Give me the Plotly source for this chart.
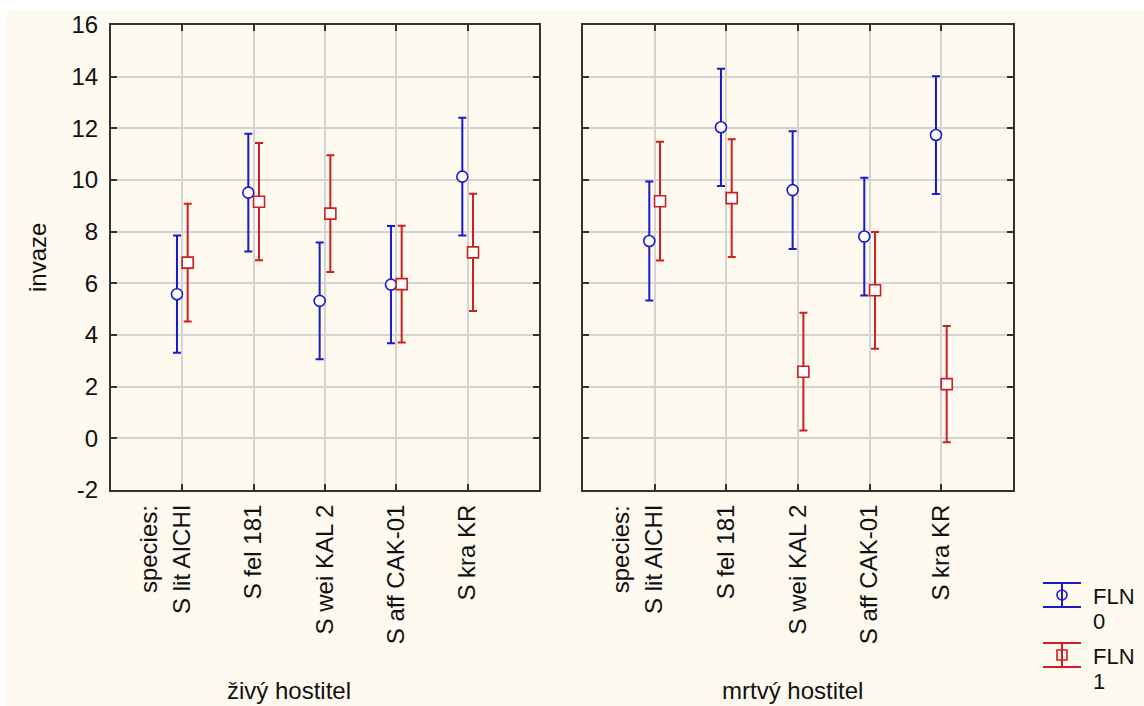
import plotly.graph_objects as go

# --- data -------------------------------------------------------------
species = ["S lit AICHI", "S fel 181", "S wei KAL 2", "S aff CAK-01", "S kra KR"]
group_header = "species:"
panels = ["živý hostitel", "mrtvý hostitel"]

# mean invasion per species, FLN = 0 / FLN = 1
live_fln0 = [5.58, 9.51, 5.32, 5.95, 10.13]
live_fln1 = [6.80, 9.16, 8.70, 5.97, 7.20]
dead_fln0 = [7.64, 12.04, 9.61, 7.81, 11.74]
dead_fln1 = [9.18, 9.30, 2.58, 5.73, 2.10]

# half-width of the interval bars
live_fln0_err = [2.27, 2.28, 2.26, 2.27, 2.28]
live_fln1_err = [2.28, 2.27, 2.26, 2.26, 2.27]
dead_fln0_err = [2.30, 2.27, 2.28, 2.28, 2.28]
dead_fln1_err = [2.30, 2.28, 2.28, 2.26, 2.25]

y_ticks = [-2, 0, 2, 4, 6, 8, 10, 12, 14, 16]
y_tick_text = ["-2", "0", "2", "4", "6", "8", "10", "12", "14", "16"]

# --- styling ----------------------------------------------------------
W, H = 1144, 706
FONT = "Liberation Sans, Arial, sans-serif"
BLUE = "#1a1acc"
RED = "#cc1f1f"
CREAM = "#fefaf0"
GRID = "#d4d4d4"
FRAME = "#333333"
INK = "#111111"
FS = 24
OFFSET = 0.075  # horizontal dodge of the two FLN groups


def px_x(x):
    return x / W


def px_y(y):
    return (H - y) / H


fig = go.Figure()

series = [
    ("x", "y", live_fln0, live_fln0_err, live_fln1, live_fln1_err),
    ("x2", "y2", dead_fln0, dead_fln0_err, dead_fln1, dead_fln1_err),
]
xs = list(range(1, len(species) + 1))
for xa, ya, m0, e0, m1, e1 in series:
    fig.add_trace(go.Scatter(
        x=[v - OFFSET for v in xs], y=m0, xaxis=xa, yaxis=ya, mode="markers",
        marker=dict(symbol="circle", size=11, color="white", line=dict(color=BLUE, width=1.6)),
        error_y=dict(type="data", array=e0, visible=True, color=BLUE, thickness=2, width=4),
        showlegend=False, hoverinfo="y",
    ))
    fig.add_trace(go.Scatter(
        x=[v + OFFSET for v in xs], y=m1, xaxis=xa, yaxis=ya, mode="markers",
        marker=dict(symbol="square", size=11, color="white", line=dict(color=RED, width=1.6)),
        error_y=dict(type="data", array=e1, visible=True, color=RED, thickness=2, width=4),
        showlegend=False, hoverinfo="y",
    ))

common_x = dict(
    range=[0, 6], tickmode="array", tickvals=xs, ticktext=species,
    tickangle=-90, tickfont=dict(size=FS, color=INK, family=FONT),
    showgrid=True, gridcolor=GRID, gridwidth=2,
    showline=True, linecolor=FRAME, linewidth=2, mirror="ticks",
    ticks="inside", ticklen=6, tickwidth=2, tickcolor=FRAME,
    zeroline=False, fixedrange=True, ticklabelstandoff=3, automargin=False,
)
common_y = dict(
    range=[-2, 16], tickmode="array", tickvals=y_ticks, ticktext=y_tick_text,
    tickfont=dict(size=FS, color=INK, family=FONT),
    showgrid=True, gridcolor=GRID, gridwidth=2,
    showline=True, linecolor=FRAME, linewidth=2, mirror="ticks",
    ticks="inside", ticklen=6, tickwidth=2, tickcolor=FRAME,
    zeroline=False, fixedrange=True, automargin=False,
)

y_dom = [px_y(490), px_y(25)]
fig.update_layout(
    template="none",
    width=W, height=H, autosize=False,
    margin=dict(l=0, r=0, t=0, b=0, pad=0),
    paper_bgcolor="white", plot_bgcolor="white",
    font=dict(family=FONT, size=FS, color=INK),
    showlegend=False,
    xaxis=dict(domain=[px_x(111), px_x(539)], anchor="y", **common_x),
    yaxis=dict(domain=y_dom, anchor="x", showticklabels=True, ticklabelstandoff=6, **common_y),
    xaxis2=dict(domain=[px_x(583), px_x(1013)], anchor="y2", **common_x),
    yaxis2=dict(domain=y_dom, anchor="x2", showticklabels=False, **common_y),
)

# cream page with a thin white rim at the top and left
fig.add_shape(type="rect", xref="paper", yref="paper", layer="below",
              x0=px_x(7), x1=1, y0=0, y1=px_y(10),
              fillcolor=CREAM, line=dict(width=0))

# header line in front of the first category of each panel
for xa in ("x", "x2"):
    fig.add_annotation(text=group_header, xref=xa, yref="paper", x=xs[0] - 0.48, y=px_y(503),
                       textangle=-90, xanchor="center", yanchor="top", showarrow=False,
                       font=dict(size=FS, family=FONT, color=INK))

# axis title and panel captions
fig.add_annotation(text="invaze", xref="paper", yref="paper", x=px_x(37), y=px_y(258),
                   textangle=-90, xanchor="center", yanchor="middle", showarrow=False,
                   font=dict(size=FS, family=FONT, color=INK))
fig.add_annotation(text=panels[0], xref="paper", yref="paper", x=px_x(289), y=px_y(690),
                   xanchor="center", yanchor="middle", showarrow=False,
                   font=dict(size=FS, family=FONT, color=INK))
fig.add_annotation(text=panels[1], xref="paper", yref="paper", x=px_x(792), y=px_y(690),
                   xanchor="center", yanchor="middle", showarrow=False,
                   font=dict(size=FS, family=FONT, color=INK))

# legend: interval glyphs with marker, followed by the two-line group label
legend_items = [("FLN", "0", BLUE, "circle", 595), ("FLN", "1", RED, "rect", 655)]
for name, level, col, shape, cy in legend_items:
    for dy in (-12, 12):
        fig.add_shape(type="line", xref="paper", yref="paper",
                      x0=px_x(1043), x1=px_x(1081), y0=px_y(cy + dy), y1=px_y(cy + dy),
                      line=dict(color=col, width=2))
    fig.add_shape(type="line", xref="paper", yref="paper",
                  x0=px_x(1062), x1=px_x(1062), y0=px_y(cy - 12), y1=px_y(cy + 12),
                  line=dict(color=col, width=2))
    fig.add_shape(type=shape, xref="paper", yref="paper",
                  x0=px_x(1057), x1=px_x(1067), y0=px_y(cy + 5), y1=px_y(cy - 5),
                  line=dict(color=col, width=1.6))
    fig.add_annotation(text=name, xref="paper", yref="paper", x=px_x(1091), y=px_y(cy + 1),
                       xanchor="left", yanchor="middle", showarrow=False,
                       font=dict(size=22, family=FONT, color=INK))
    fig.add_annotation(text=level, xref="paper", yref="paper", x=px_x(1091), y=px_y(cy + 26),
                       xanchor="left", yanchor="middle", showarrow=False,
                       font=dict(size=22, family=FONT, color=INK))

fig.write_html("out.html")
